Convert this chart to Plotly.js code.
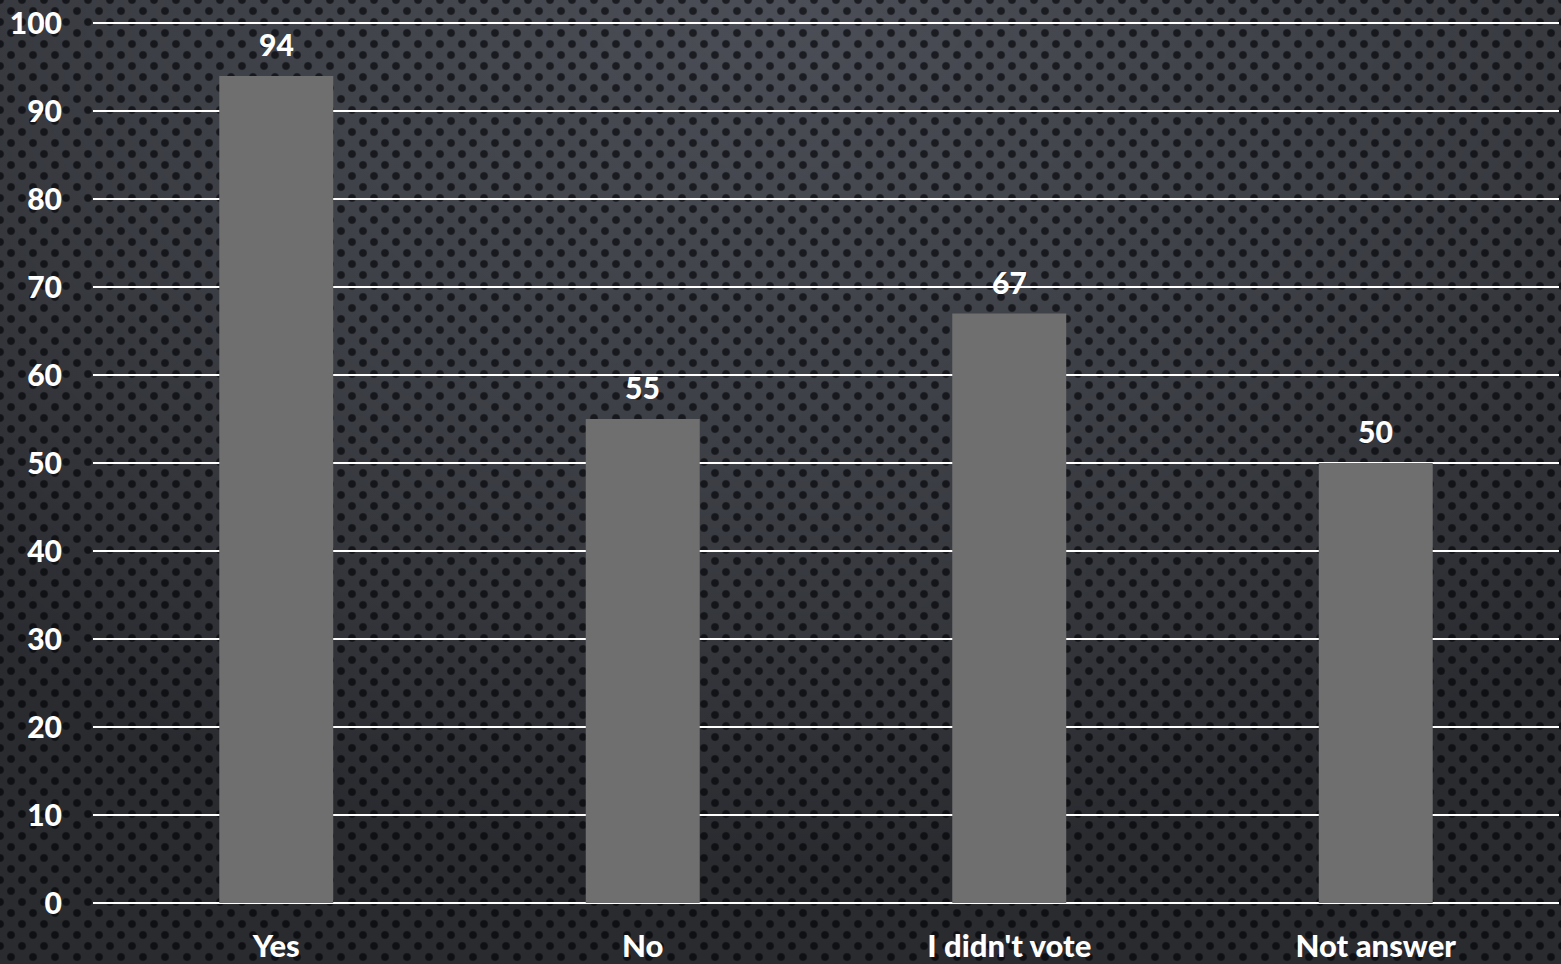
<!DOCTYPE html>
<html>
<head>
<meta charset="utf-8">
<script src="https://cdn.plot.ly/plotly-3.0.1.min.js"></script>
<style>
  html, body { margin: 0; padding: 0; width: 1561px; height: 964px; overflow: hidden; }
  body {
    background:
      radial-gradient(ellipse 75% 90% at 50% 0%, rgba(0,0,0,0) 0%, rgba(0,0,0,0.2) 55%, rgba(0,0,0,0.45) 100%),
      radial-gradient(circle, #1b1d23 3.2px, rgba(27,29,35,0) 4.6px) 0 0 / 22px 22px,
      radial-gradient(circle, #1b1d23 3.2px, rgba(27,29,35,0) 4.6px) 11px 11px / 22px 22px,
      #4b4e56;
  }
  #chart { width: 1561px; height: 964px; }
</style>
</head>
<body>
<div id="chart"></div>
<script>
const categories = ["Yes", "No", "I didn't vote", "Not answer"];
const values = [94, 55, 67, 50];
const yTicks = [0, 10, 20, 30, 40, 50, 60, 70, 80, 90, 100];

const fontFamily = "Lato, 'Open Sans', sans-serif";

const trace = {
  type: "bar",
  x: categories,
  y: values,
  marker: { color: "#6f6f6f" },
  hoverinfo: "x+y"
};

const annotations = categories.map((c, i) => ({
  x: c, y: values[i], xref: "x", yref: "y",
  text: String(values[i]),
  showarrow: false, yanchor: "bottom", yshift: 12,
  font: { family: fontFamily, size: 30, color: "#ffffff", weight: 900 }
}));

const layout = {
  width: 1561, height: 964,
  margin: { l: 93, r: 2, t: 21, b: 61 },
  paper_bgcolor: "rgba(0,0,0,0)",
  plot_bgcolor: "rgba(0,0,0,0)",
  bargap: 0.689,
  showlegend: false,
  font: { family: fontFamily, color: "#ffffff", size: 30, weight: 900 },
  xaxis: {
    type: "category",
    showgrid: false, zeroline: false, showline: false,
    ticks: "", ticklabelstandoff: 22,
    tickfont: { family: fontFamily, size: 31, color: "#ffffff", weight: 900 }
  },
  yaxis: {
    range: [0, 100.25],
    tickvals: yTicks,
    ticktext: yTicks.map(String),
    showgrid: true, gridcolor: "#ffffff", gridwidth: 2,
    zeroline: true, zerolinecolor: "#ffffff", zerolinewidth: 2,
    showline: false, ticks: "", ticklabelstandoff: 30,
    tickfont: { family: fontFamily, size: 30, color: "#ffffff", weight: 900 }
  },
  annotations: annotations
};

Plotly.newPlot("chart", [trace], layout, { displayModeBar: false });
</script>
</body>
</html>
